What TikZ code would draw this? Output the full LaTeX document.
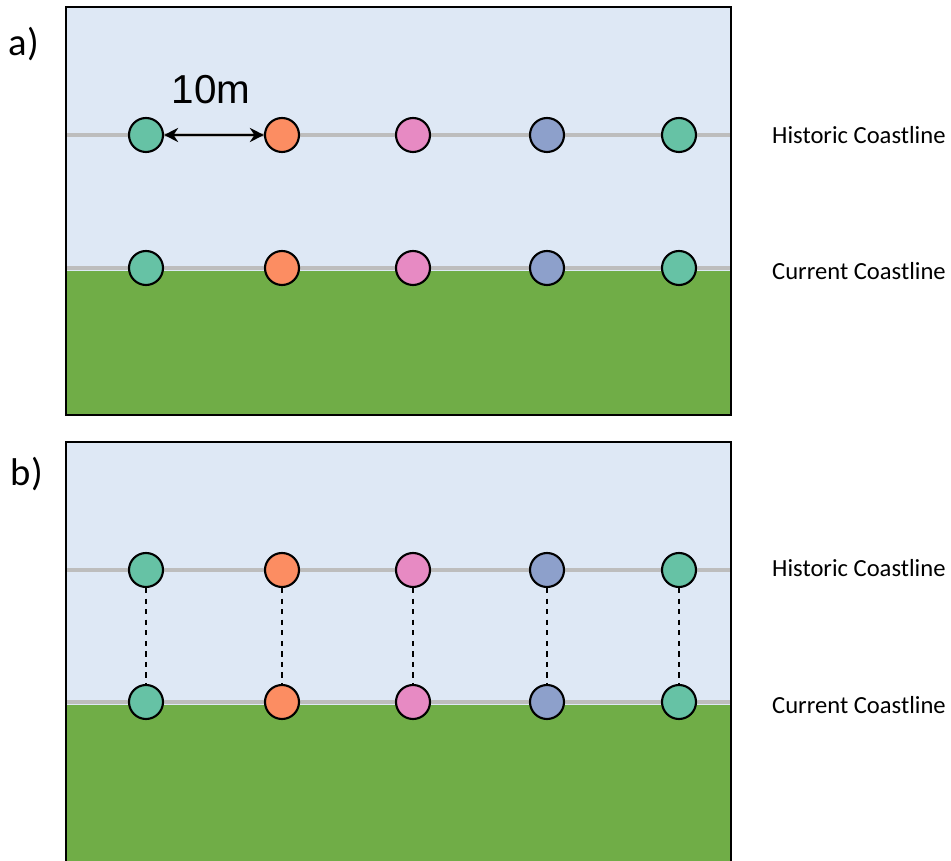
\documentclass[tikz,border=0pt]{standalone}
\usepackage{fontspec}
\setmainfont{Carlito}
\newfontfamily\arialfont{Liberation Sans}
\usetikzlibrary{arrows.meta}
\definecolor{sea}{HTML}{DEE8F5}
\definecolor{land}{HTML}{70AD47}
\definecolor{shore}{HTML}{BDBDBD}
\definecolor{teal}{HTML}{66C2A5}
\definecolor{salmon}{HTML}{FC8D62}
\definecolor{pinkish}{HTML}{E78AC3}
\definecolor{slate}{HTML}{8DA0CB}
\begin{document}
\begin{tikzpicture}[x=0.02cm,y=-0.02cm,
	marker/.style={circle,draw,line width=1.2pt,minimum size=0.68cm,inner sep=0pt},
	coast/.style={shore,line width=2.3pt},
	label/.style={anchor=west,font=\fontsize{14}{16}\selectfont}]
	\useasboundingbox (0,0) rectangle (951,861);

	% panel a
	\fill[sea] (66,7) rectangle (731,415);
	\draw[coast] (66,135) -- (731,135);
	\draw[coast] (66,268) -- (731,268);
	\fill[land] (66,271) rectangle (731,415);
	\draw[line width=1.1pt] (66,7) rectangle (731,415);
	\foreach \x/\c/\n in {146/teal/1,282/salmon/2,413/pinkish/3,547/slate/4,679/teal/5}{
		\node (ha\n) [marker,fill=\c] at (\x,135) {};
		\node (ca\n) [marker,fill=\c] at (\x,268) {};
	}
	\draw[{Stealth[length=8pt,width=8pt]}-{Stealth[length=8pt,width=8pt]},line width=1.3pt] (ha1) -- (ha2);
	\node (dist) [font=\arialfont\fontsize{23}{25}\selectfont] at (211,90) {10m};
	\node (tagA) [font=\fontsize{22}{24}\selectfont] at (24,44) {a)};
	\node [label] at (766,135) {Historic Coastline};
	\node [label] at (766,271) {Current Coastline};

	% panel b
	\fill[sea] (66,442) rectangle (731,866);
	\draw[coast] (66,570) -- (731,570);
	\draw[coast] (66,702) -- (731,702);
	\fill[land] (66,705) rectangle (731,866);
	\draw[line width=1.1pt] (66,442) rectangle (731,866);
	\foreach \x/\c/\n in {146/teal/1,282/salmon/2,413/pinkish/3,547/slate/4,679/teal/5}{
		\node (hb\n) [marker,fill=\c] at (\x,570) {};
		\node (cb\n) [marker,fill=\c] at (\x,702) {};
		\draw[dashed,line width=0.7pt] (hb\n) -- (cb\n);
	}
	\node (tagB) [font=\fontsize{22}{24}\selectfont] at (27,474) {b)};
	\node [label] at (766,568) {Historic Coastline};
	\node [label] at (766,705) {Current Coastline};
\end{tikzpicture}
\end{document}
